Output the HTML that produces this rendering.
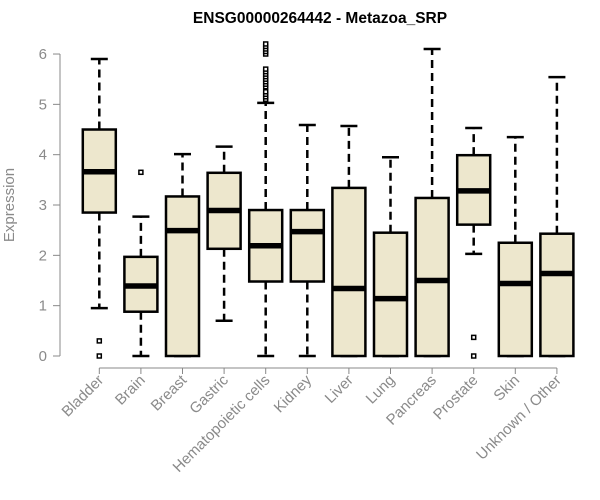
<!DOCTYPE html>
<html><head><meta charset="utf-8"><style>
html,body{margin:0;padding:0;background:#fff;}
svg{display:block;font-family:"Liberation Sans",Arial,sans-serif;}
</style></head><body>
<svg id="chart" width="600" height="500">
<text x="320" y="23" text-anchor="middle" font-weight="bold" font-size="15.5">ENSG00000264442 - Metazoa_SRP</text>
<text transform="translate(14,205) rotate(-90)" text-anchor="middle" font-size="15" fill="#8a8a8a">Expression</text>
<g id="axes"></g><g id="plot"></g>
</svg>
<script>
const categories=["Bladder","Brain","Breast","Gastric","Hematopoietic cells","Kidney","Liver","Lung","Pancreas","Prostate","Skin","Unknown / Other"];
const whiskLow=[0.95,0,0,0.70,0,0,0,0,0,2.03,0,0];
const q1=[2.85,0.88,0,2.13,1.48,1.48,0,0,0,2.61,0,0];
const medians=[3.66,1.39,2.49,2.89,2.19,2.47,1.34,1.14,1.50,3.28,1.44,1.64];
const q3=[4.50,1.97,3.17,3.64,2.90,2.90,3.34,2.45,3.14,3.99,2.25,2.43];
const whiskHigh=[5.90,2.77,4.01,4.16,5.03,4.59,4.57,3.95,6.10,4.53,4.35,5.54];
const outliers=[[0.3,0],[3.65],[],[],[5.1,5.15,5.2,5.25,5.35,5.4,5.45,5.5,5.55,5.6,5.65,5.7,6.0,6.05,6.1,6.15,6.2],[],[],[],[],[0.37,0],[],[]];
const yTicks=[0,1,2,3,4,5,6];
const NS="http://www.w3.org/2000/svg";
function y(v){return 356-v*50.33;}
function x(i){return 99.3+i*41.6;}
function mk(p,t,a){const e=document.createElementNS(NS,t);for(const k in a)e.setAttribute(k,a[k]);p.appendChild(e);return e;}
const ax=document.getElementById('axes'),pl=document.getElementById('plot');
const yl=mk(ax,'line',{x1:60,x2:60,y1:y(6),y2:y(0),stroke:'#888'});


yTicks.forEach(t=>{
 const tk=mk(ax,'line',{x1:53,x2:60,y1:y(t),y2:y(t),stroke:'#888'});
 
 
 const tl=mk(ax,'text',{x:47,y:y(t)+5,'text-anchor':'end','font-size':15,fill:'#8a8a8a'});
 tl.textContent=t;
 
 
});
const xl=mk(ax,'line',{x1:x(0),x2:x(categories.length-1),y1:368,y2:368,stroke:'#888'});


const hw=16.5;
categories.forEach((c,i)=>{
 const cx=x(i);
 const tk=mk(ax,'line',{x1:cx,x2:cx,y1:368,y2:374,stroke:'#888'});
 
 
 const tl=mk(ax,'text',{transform:`translate(${cx+5},${381}) rotate(-45)`,'text-anchor':'end','font-size':15,fill:'#8a8a8a'});
 tl.textContent=c;
 
 
 const g=mk(pl,'g',{});
 
 
 mk(g,'line',{x1:cx,x2:cx,y1:y(q3[i]),y2:y(whiskHigh[i]),stroke:'#000','stroke-width':2.5,'stroke-dasharray':'8,5'});
 mk(g,'line',{x1:cx,x2:cx,y1:y(q1[i]),y2:y(whiskLow[i]),stroke:'#000','stroke-width':2.5,'stroke-dasharray':'8,5'});
 mk(g,'line',{x1:cx-8.5,x2:cx+8.5,y1:y(whiskHigh[i]),y2:y(whiskHigh[i]),stroke:'#000','stroke-width':2.5});
 mk(g,'line',{x1:cx-8.5,x2:cx+8.5,y1:y(whiskLow[i]),y2:y(whiskLow[i]),stroke:'#000','stroke-width':2.5});
 mk(g,'rect',{x:cx-hw,y:y(q3[i]),width:hw*2,height:y(q1[i])-y(q3[i]),fill:'#ede7cd',stroke:'#000','stroke-width':2.5});
 mk(g,'line',{x1:cx-hw,x2:cx+hw,y1:y(medians[i]),y2:y(medians[i]),stroke:'#000','stroke-width':5.5});
 outliers[i].forEach(o=>{
  const p=mk(g,'rect',{x:cx-2,y:y(o)-2,width:4,height:4,fill:'#fff',stroke:'#000','stroke-width':1.5});
  
  
 });
});
</script>
</body></html>
